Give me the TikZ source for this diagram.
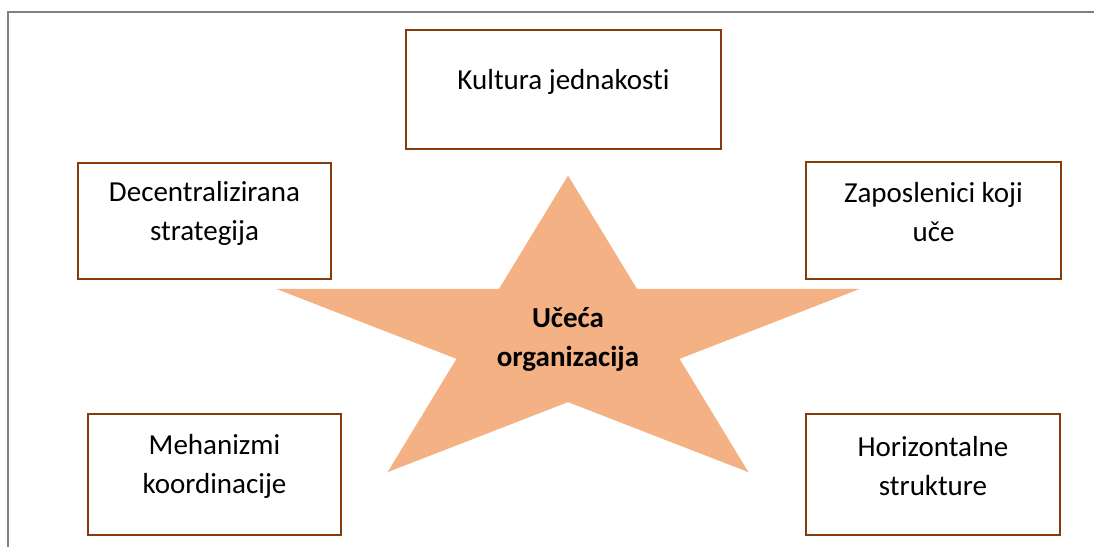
\documentclass[tikz,border=0pt]{standalone}
\usepackage{fontspec}
\setmainfont{Carlito}[Ligatures=CommonOff]
\definecolor{smeda}{RGB}{132,60,12}
\definecolor{narancasta}{RGB}{244,177,131}
\definecolor{sivirub}{RGB}{128,128,128}
\begin{document}
\begin{tikzpicture}[x=1pt,y=-1pt]
		% Stilovi
		\tikzstyle{okvir}=[draw=smeda,line width=2.2pt,fill=white]
		\tikzstyle{natpis}=[align=center,text=black,font=\fontsize{29}{39}\selectfont]
		\tikzstyle{srednji}=[align=center,text=black,font=\fontsize{29}{39}\selectfont\bfseries]
		\tikzstyle{zvijezda}=[fill=narancasta]
		\tikzstyle{rub}=[draw=sivirub,line width=2.5pt]
		% Dimenzije
		\def\Pomak{8pt}
		\useasboundingbox (0,0) rectangle (1094,546);
		\clip (0,0) rectangle (1094,546);
		% Rub
		\draw[rub] (8,12) rectangle (1120,570);
		% Zvijezda (vanjski 307 x 164, unutarnji 117.3 x 62.6)
		\begin{scope}[shift={(568,339.5)},yscale=-1]
			\fill[zvijezda] (90:307 and 164)
				\foreach \k in {0,...,4} {
					-- ({126+72*\k}:117.3 and 62.6)
					-- ({162+72*\k}:307 and 164)
				} -- cycle;
		\end{scope}
		\node[srednji] (organizacija) at (568,339.5) {Učeća\\organizacija};
		% Okviri
		\node[okvir,minimum width=315pt,minimum height=119pt] (kultura) at (563.5,89.5) {};
		\node[okvir,minimum width=253pt,minimum height=116pt] (decentralizirana) at (204.5,221) {};
		\node[okvir,minimum width=255pt,minimum height=117pt] (zaposlenici) at (933.5,220.5) {};
		\node[okvir,minimum width=253pt,minimum height=121pt] (mehanizmi) at (214.5,474.5) {};
		\node[okvir,minimum width=254pt,minimum height=121pt] (horizontalne) at (933,474.5) {};
		% Natpisi
		\node[natpis] (tkultura) at ([yshift=\Pomak]kultura.center) {Kultura jednakosti};
		\node[natpis] (tdecentralizirana) at ([yshift=\Pomak]decentralizirana.center) {Decentralizirana\\strategija};
		\node[natpis] (tzaposlenici) at ([yshift=\Pomak]zaposlenici.center) {Zaposlenici koji\\uče};
		\node[natpis] (tmehanizmi) at ([yshift=\Pomak]mehanizmi.center) {Mehanizmi\\koordinacije};
		\node[natpis] (thorizontalne) at ([yshift=\Pomak]horizontalne.center) {Horizontalne\\strukture};
	\end{tikzpicture}
\end{document}
